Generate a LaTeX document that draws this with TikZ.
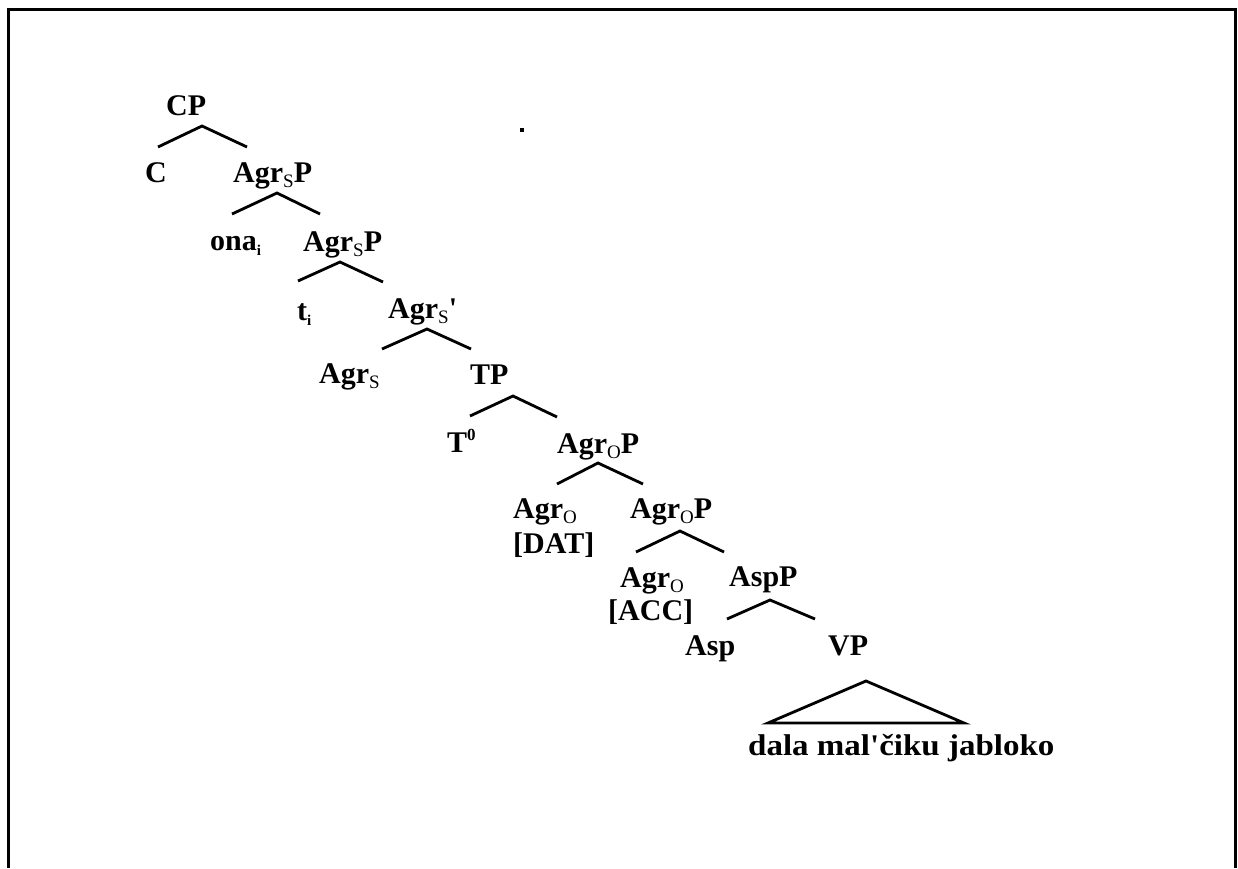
\documentclass[tikz,border=0pt]{standalone}
\usepackage{fontspec}
\setmainfont{Liberation Serif}
\newcommand\lsub[1]{\raisebox{-5pt}{\fontsize{19}{19}\selectfont\mdseries #1}}
\newcommand\isub{\raisebox{-5pt}{\fontsize{15}{15}\selectfont i}}
\newcommand\zsup{\raisebox{12pt}{\fontsize{17}{17}\selectfont 0}}
\begin{document}
\begin{tikzpicture}[x=1pt,y=-1pt,
  lbl/.style={anchor=base west, inner sep=0pt, font=\fontsize{30}{32}\selectfont\bfseries},
  branch/.style={line width=2.8pt, line join=miter},
  frameline/.style={line width=3.4pt}]
\useasboundingbox (0,0) rectangle (1238,868);
% frame (open at the bottom)
\coordinate (fbl) at (8.5,868);
\coordinate (ftl) at (8.5,9.5);
\coordinate (ftr) at (1235.5,9.5);
\coordinate (fbr) at (1235.5,868);
\draw[frameline] (fbl) -- (ftl) -- (ftr) -- (fbr);
% stray dot
\fill (520,128) rectangle (524,132);

% labels
\node[lbl] (cp)    at (166,115) {CP};
\node[lbl] (c)     at (145,182) {C};
\node[lbl] (agrsp1) at (233,182) {Agr\lsub{S}P};
\node[lbl] (ona)   at (210,250) {ona\isub};
\node[lbl] (agrsp2) at (303,251) {Agr\lsub{S}P};
\node[lbl] (ti)    at (297,320) {t\isub};
\node[lbl] (agrsb) at (388,318) {Agr\lsub{S}\textquotesingle};
\node[lbl] (agrs)  at (319,383) {Agr\lsub{S}};
\node[lbl] (tp)    at (470,384) {TP};
\node[lbl] (t0)    at (447,452) {T\zsup};
\node[lbl] (agrop1) at (557,453) {Agr\lsub{O}P};
\node[lbl] (agrod) at (513,518) {Agr\lsub{O}};
\node[lbl] (dat)   at (513,553) {[DAT]};
\node[lbl] (agrop2) at (630,518) {Agr\lsub{O}P};
\node[lbl] (agroa) at (620,587) {Agr\lsub{O}};
\node[lbl] (acc)   at (608,620) {[ACC]};
\node[lbl] (aspp)  at (729,586) {AspP};
\node[lbl] (asp)   at (685,655) {Asp};
\node[lbl] (vp)    at (828,655) {VP};
\node[lbl] (vpc)   at (748,755) {\scalebox{1.1}[1]{dala mal\textquotesingle čiku jabloko}};

% branch points
\coordinate (b1) at (202,126); \coordinate (b1l) at (158,147); \coordinate (b1r) at (247,147);
\coordinate (b2) at (277,193); \coordinate (b2l) at (232,214); \coordinate (b2r) at (320,214);
\coordinate (b3) at (340,262); \coordinate (b3l) at (298,281); \coordinate (b3r) at (383,282);
\coordinate (b4) at (427,329); \coordinate (b4l) at (382,349); \coordinate (b4r) at (471,349);
\coordinate (b5) at (513,396); \coordinate (b5l) at (470,416); \coordinate (b5r) at (557,417);
\coordinate (b6) at (598,463); \coordinate (b6l) at (557,484); \coordinate (b6r) at (643,484);
\coordinate (b7) at (680,531); \coordinate (b7l) at (636,552); \coordinate (b7r) at (724,552);
\coordinate (b8) at (770,600); \coordinate (b8l) at (727,619); \coordinate (b8r) at (815,619);
\coordinate (tri) at (866,681); \coordinate (tril) at (768,723); \coordinate (trir) at (964,723);

\draw[branch] (b1l) -- (b1) -- (b1r);
\draw[branch] (b2l) -- (b2) -- (b2r);
\draw[branch] (b3l) -- (b3) -- (b3r);
\draw[branch] (b4l) -- (b4) -- (b4r);
\draw[branch] (b5l) -- (b5) -- (b5r);
\draw[branch] (b6l) -- (b6) -- (b6r);
\draw[branch] (b7l) -- (b7) -- (b7r);
\draw[branch] (b8l) -- (b8) -- (b8r);
\draw[branch] (tril) -- (tri) -- (trir) -- cycle;
\end{tikzpicture}
\end{document}
